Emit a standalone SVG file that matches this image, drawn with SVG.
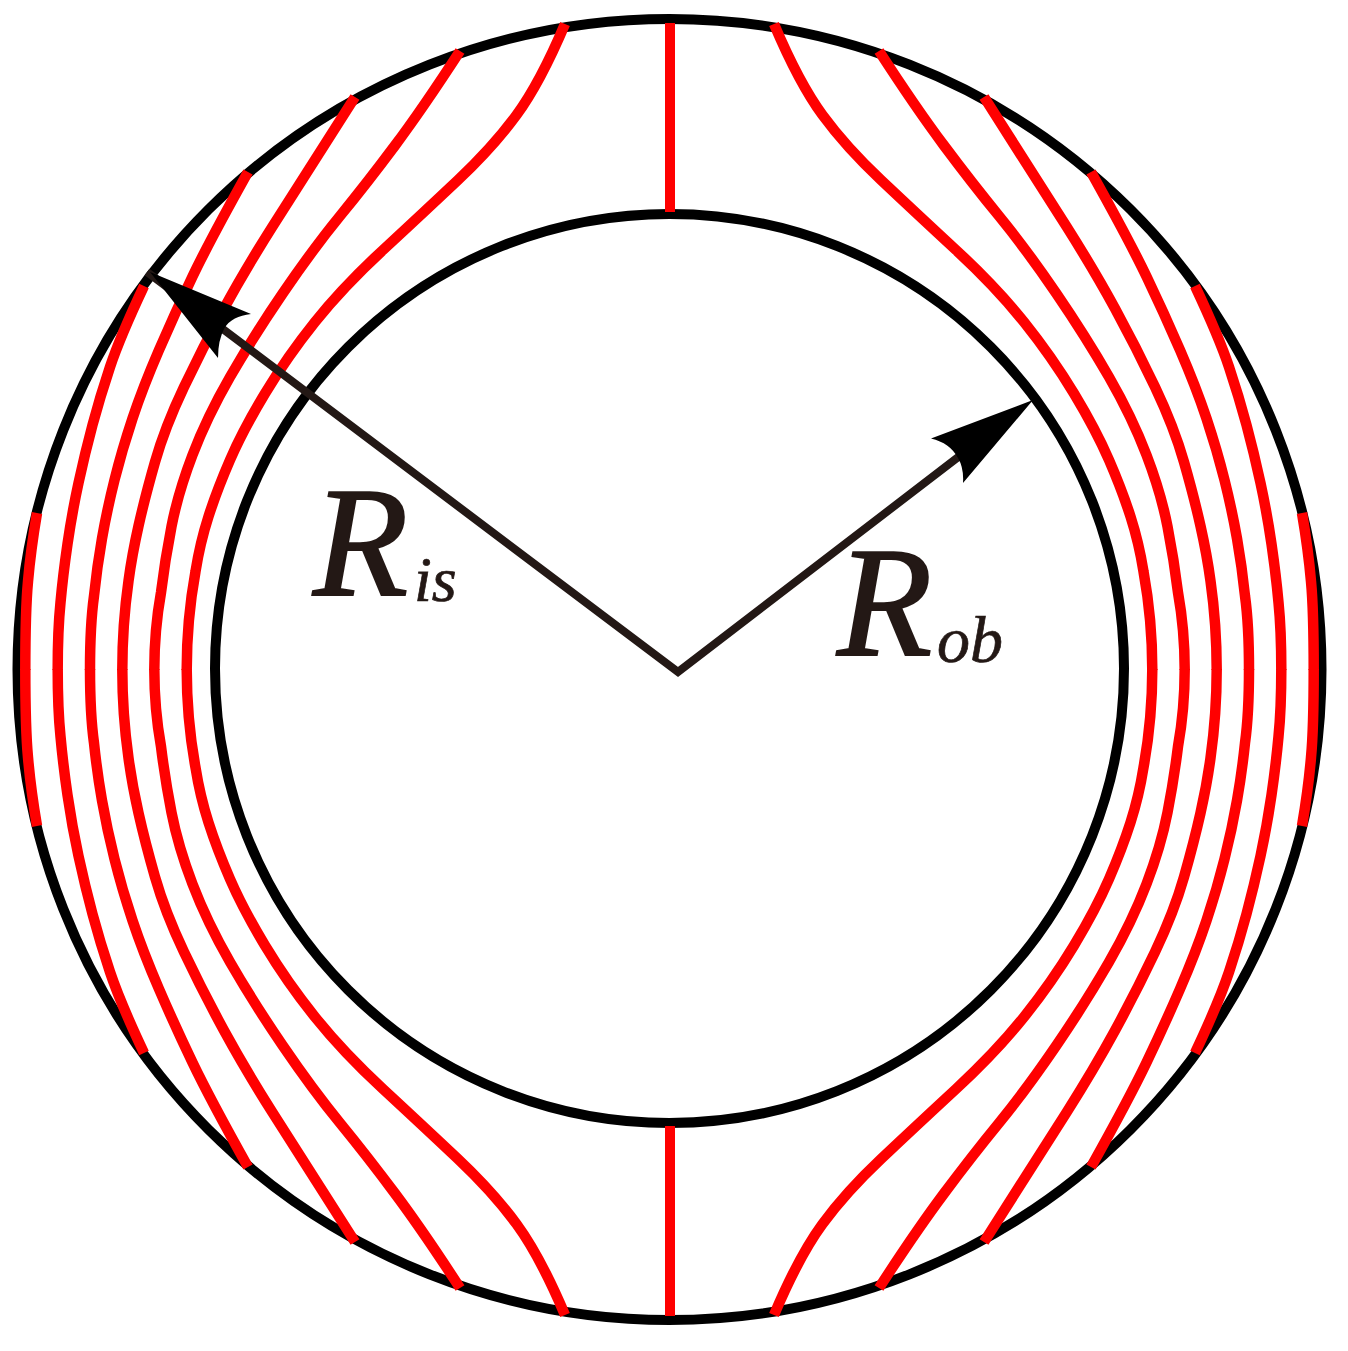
<svg xmlns="http://www.w3.org/2000/svg" width="1348" height="1351" viewBox="0 0 1348 1351">
<style>
.ring{fill:none;stroke:#000;stroke-width:10}
.red{fill:none;stroke:#f00;stroke-width:10.5;stroke-linejoin:round}
.axis{fill:none;stroke:#231815;stroke-width:8;stroke-linejoin:miter}
.head{fill:#000}
.lab{font-family:"Liberation Serif","Times New Roman",serif;font-style:italic;fill:#231815;stroke:#231815}
</style>
<defs>
<g id="quarter">
<path class="red" d="M37 513Q30.7 550 28 581.5Q25.3 610 25.3 670"/>
<path class="red" d="M144 286Q120 337 110 367Q100 397 92.5 425Q85 453 78.5 483Q72 513 67.5 544Q63 575 60.5 602.5Q57.7 630 57.7 670"/>
<path class="red" d="M248 172Q210 240 192.5 276.5Q175 313 159 350Q143 387 132.5 418.5Q122 450 114.5 480Q107 510 102 538.5Q97 567 94 596Q90 625 90 670"/>
<path class="red" d="M355 97Q300 183 272.5 226.5Q245 270 224 308.5Q203 347 184 387Q165 427 155 462Q145 497 138.5 526Q132 555 128.5 581Q122.3 625 122.3 670"/>
<path class="red" d="M460 51Q423 108 395 145.5Q367 183 340 216Q313 249 283 293Q253 337 230 377Q207 417 192.5 455Q178 493 171.5 526.5Q165 560 161 592.5Q154.3 630 154.3 670"/>
<path class="red" d="M565 24Q540 83 516.5 115Q493 147 458 180Q423 213 383 250Q343 287 315 322Q287 357 265 393.5Q243 430 230 460Q217 490 208.5 516.5Q200 543 195.5 571.5Q186.7 620 186.7 670"/>
</g>
</defs>
<rect width="1348" height="1351" fill="#fff"/>
<g id="rings">
<ellipse class="ring" cx="669.5" cy="669.5" rx="652" ry="650.5"/>
<circle class="ring" cx="669.5" cy="668.5" r="454.5"/>
</g>
<g id="field-lines">
<use href="#quarter"/>
<use href="#quarter" transform="matrix(-1 0 0 1 1339 0)"/>
<use href="#quarter" transform="matrix(1 0 0 -1 0 1339)"/>
<use href="#quarter" transform="matrix(-1 0 0 -1 1339 1339)"/>
<path d="M670 23V212M670 1126V1316" fill="none" stroke="#f00" stroke-width="10"/>
</g>
<g id="connectors">
<path class="axis" d="M147 272L678 672L1000 425"/>
<path class="head" d="M150 272L251 314Q232 316 224.5 328Q218 340 218 358Z"/>
<path class="head" d="M1033 400L931 438.5Q950 443 958 458Q964 468 963 483Z"/>
</g>
<g id="label-ris">
<text class="lab" x="313" y="595" font-size="156" stroke-width="1.8">R</text>
<text class="lab" x="414" y="601" font-size="64" stroke-width=".7">is</text>
</g>
<g id="label-rob">
<text class="lab" x="837" y="655" font-size="156" stroke-width="1.8">R</text>
<text class="lab" x="937" y="662" font-size="66" stroke-width=".7">ob</text>
</g>
</svg>
